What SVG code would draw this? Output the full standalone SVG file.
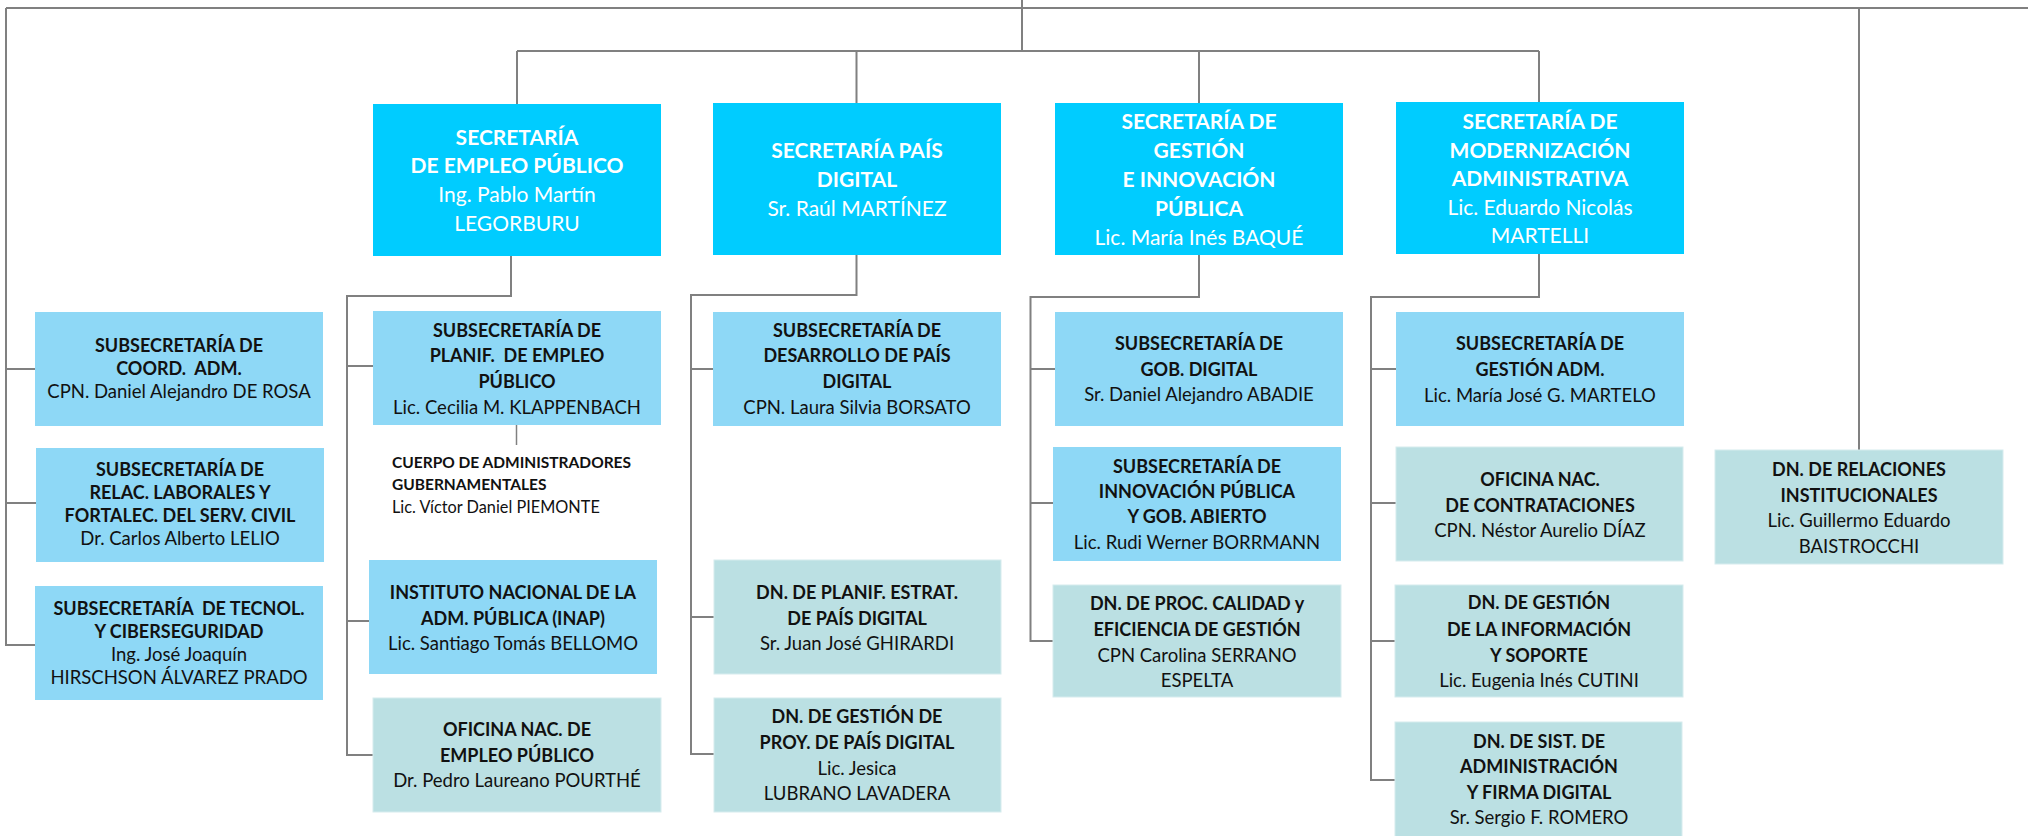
<svg xmlns="http://www.w3.org/2000/svg" width="2028" height="836" viewBox="0 0 2028 836">
<style>
text{font-family:Lato,"Liberation Sans",sans-serif;text-anchor:middle;fill:#111;white-space:pre}
.sec rect{fill:#00CCFF}
.sec text{fill:#fff;font-size:21px}
.sub rect{fill:#8ED8F6}
.dn rect{fill:#BBE0E3;stroke:#D6ECEE;stroke-width:1}
.sub text,.dn text{font-size:18.5px}
.sub text.b,.dn text.b{font-size:18px}
.b{font-weight:bold}
.cp text{font-size:16.3px;text-anchor:start}
.cp text.b{font-size:15.5px}
#connectors path{fill:none;stroke:#808080;stroke-width:2}
</style>
<rect width="2028" height="836" fill="#fff"/>
<g id="connectors">
<path d="M6,8H2028"/>
<path d="M1022,0V51"/>
<path d="M6,8V645H35M6,369H35M6,503H36"/>
<path d="M517,51H1539M517,51V104M856.5,51V103M1199,51V103M1539,51V102"/>
<path d="M511,256V296H347V755H373M347,366H373M347,621H369"/>
<path d="M516.5,425V445" style="stroke-width:1.5"/>
<path d="M856.5,255V295H691V754H714M691,369H713M691,617H714"/>
<path d="M1199,255V297H1030.5V641H1053M1030.5,369H1055M1030.5,503H1053"/>
<path d="M1539,254V297H1371V780H1395M1371,369H1396M1371,503H1396M1371,641H1395"/>
<path d="M1859,8V450"/>
</g>
<g id="sec-empleo" class="sec"><rect x="373" y="104" width="288" height="152"/>
<text x="517" y="145" class="b">SECRETARÍA</text><text x="517" y="173" class="b">DE EMPLEO PÚBLICO</text><text x="517" y="202">Ing. Pablo Martín</text><text x="517" y="231">LEGORBURU</text></g>
<g id="sec-pais" class="sec"><rect x="713" y="103" width="288" height="152"/>
<text x="857" y="158" class="b">SECRETARÍA PAÍS</text><text x="857" y="187" class="b">DIGITAL</text><text x="857" y="216">Sr. Raúl MARTÍNEZ</text></g>
<g id="sec-gestion" class="sec"><rect x="1055" y="103" width="288" height="152"/>
<text x="1199" y="129" class="b">SECRETARÍA DE</text><text x="1199" y="158" class="b">GESTIÓN</text><text x="1199" y="187" class="b">E INNOVACIÓN</text><text x="1199" y="216" class="b">PÚBLICA</text><text x="1199" y="245">Lic. María Inés BAQUÉ</text></g>
<g id="sec-modern" class="sec"><rect x="1396" y="102" width="288" height="152"/>
<text x="1540" y="129" class="b">SECRETARÍA DE</text><text x="1540" y="158" class="b">MODERNIZACIÓN</text><text x="1540" y="186" class="b">ADMINISTRATIVA</text><text x="1540" y="215">Lic. Eduardo Nicolás</text><text x="1540" y="243">MARTELLI</text></g>
<g id="sub-coord" class="sub"><rect x="35" y="312" width="288" height="114"/>
<text x="179" y="352" class="b">SUBSECRETARÍA DE</text><text x="179" y="375" class="b">COORD.  ADM.</text><text x="179" y="398">CPN. Daniel Alejandro DE ROSA</text></g>
<g id="sub-relac" class="sub"><rect x="36" y="448" width="288" height="114"/>
<text x="180" y="476" class="b">SUBSECRETARÍA DE</text><text x="180" y="499" class="b">RELAC. LABORALES Y</text><text x="180" y="522" class="b">FORTALEC. DEL SERV. CIVIL</text><text x="180" y="545">Dr. Carlos Alberto LELIO</text></g>
<g id="sub-tecnol" class="sub"><rect x="35" y="586" width="288" height="114"/>
<text x="179" y="615" class="b">SUBSECRETARÍA  DE TECNOL.</text><text x="179" y="638" class="b">Y CIBERSEGURIDAD</text><text x="179" y="661">Ing. José Joaquín</text><text x="179" y="684">HIRSCHSON ÁLVAREZ PRADO</text></g>
<g id="sub-planif" class="sub"><rect x="373" y="311" width="288" height="114"/>
<text x="517" y="337" class="b">SUBSECRETARÍA DE</text><text x="517" y="362" class="b">PLANIF.  DE EMPLEO</text><text x="517" y="388" class="b">PÚBLICO</text><text x="517" y="414">Lic. Cecilia M. KLAPPENBACH</text></g>
<g id="cuerpo" class="cp">
<text x="392" y="468" class="b">CUERPO DE ADMINISTRADORES</text><text x="392" y="490" class="b">GUBERNAMENTALES</text><text x="392" y="513">Lic. Víctor Daniel PIEMONTE</text></g>
<g id="inap" class="sub"><rect x="369" y="560" width="288" height="114"/>
<text x="513" y="599" class="b">INSTITUTO NACIONAL DE LA</text><text x="513" y="625" class="b">ADM. PÚBLICA (INAP)</text><text x="513" y="650">Lic. Santiago Tomás BELLOMO</text></g>
<g id="onep" class="dn"><rect x="373" y="698" width="288" height="114"/>
<text x="517" y="736" class="b">OFICINA NAC. DE</text><text x="517" y="762" class="b">EMPLEO PÚBLICO</text><text x="517" y="787">Dr. Pedro Laureano POURTHÉ</text></g>
<g id="sub-desarrollo" class="sub"><rect x="713" y="312" width="288" height="114"/>
<text x="857" y="337" class="b">SUBSECRETARÍA DE</text><text x="857" y="362" class="b">DESARROLLO DE PAÍS</text><text x="857" y="388" class="b">DIGITAL</text><text x="857" y="414">CPN. Laura Silvia BORSATO</text></g>
<g id="dn-planif" class="dn"><rect x="714" y="560" width="287" height="114"/>
<text x="857" y="599" class="b">DN. DE PLANIF. ESTRAT.</text><text x="857" y="625" class="b">DE PAÍS DIGITAL</text><text x="857" y="650">Sr. Juan José GHIRARDI</text></g>
<g id="dn-proy" class="dn"><rect x="714" y="698" width="287" height="114"/>
<text x="857" y="723" class="b">DN. DE GESTIÓN DE</text><text x="857" y="749" class="b">PROY. DE PAÍS DIGITAL</text><text x="857" y="775">Lic. Jesica</text><text x="857" y="800">LUBRANO LAVADERA</text></g>
<g id="sub-gob" class="sub"><rect x="1055" y="312" width="288" height="114"/>
<text x="1199" y="350" class="b">SUBSECRETARÍA DE</text><text x="1199" y="376" class="b">GOB. DIGITAL</text><text x="1199" y="401">Sr. Daniel Alejandro ABADIE</text></g>
<g id="sub-innov" class="sub"><rect x="1053" y="447" width="288" height="114"/>
<text x="1197" y="473" class="b">SUBSECRETARÍA DE</text><text x="1197" y="498" class="b">INNOVACIÓN PÚBLICA</text><text x="1197" y="523" class="b">Y GOB. ABIERTO</text><text x="1197" y="549">Lic. Rudi Werner BORRMANN</text></g>
<g id="dn-calidad" class="dn"><rect x="1053" y="585" width="288" height="112"/>
<text x="1197" y="610" class="b">DN. DE PROC. CALIDAD y</text><text x="1197" y="636" class="b">EFICIENCIA DE GESTIÓN</text><text x="1197" y="662">CPN Carolina SERRANO</text><text x="1197" y="687">ESPELTA</text></g>
<g id="sub-gestadm" class="sub"><rect x="1396" y="312" width="288" height="114"/>
<text x="1540" y="350" class="b">SUBSECRETARÍA DE</text><text x="1540" y="376" class="b">GESTIÓN ADM.</text><text x="1540" y="402">Lic. María José G. MARTELO</text></g>
<g id="onc" class="dn"><rect x="1396" y="447" width="287" height="114"/>
<text x="1540" y="486" class="b">OFICINA NAC.</text><text x="1540" y="512" class="b">DE CONTRATACIONES</text><text x="1540" y="537">CPN. Néstor Aurelio DÍAZ</text></g>
<g id="dn-info" class="dn"><rect x="1395" y="585" width="288" height="112"/>
<text x="1539" y="609" class="b">DN. DE GESTIÓN</text><text x="1539" y="636" class="b">DE LA INFORMACIÓN</text><text x="1539" y="662" class="b">Y SOPORTE</text><text x="1539" y="687">Lic. Eugenia Inés CUTINI</text></g>
<g id="dn-sist" class="dn"><rect x="1395" y="722" width="287" height="116"/>
<text x="1539" y="748" class="b">DN. DE SIST. DE</text><text x="1539" y="773" class="b">ADMINISTRACIÓN</text><text x="1539" y="799" class="b">Y FIRMA DIGITAL</text><text x="1539" y="824">Sr. Sergio F. ROMERO</text></g>
<g id="dn-relac" class="dn"><rect x="1715" y="450" width="288" height="114"/>
<text x="1859" y="476" class="b">DN. DE RELACIONES</text><text x="1859" y="502" class="b">INSTITUCIONALES</text><text x="1859" y="527">Lic. Guillermo Eduardo</text><text x="1859" y="553">BAISTROCCHI</text></g>
</svg>
